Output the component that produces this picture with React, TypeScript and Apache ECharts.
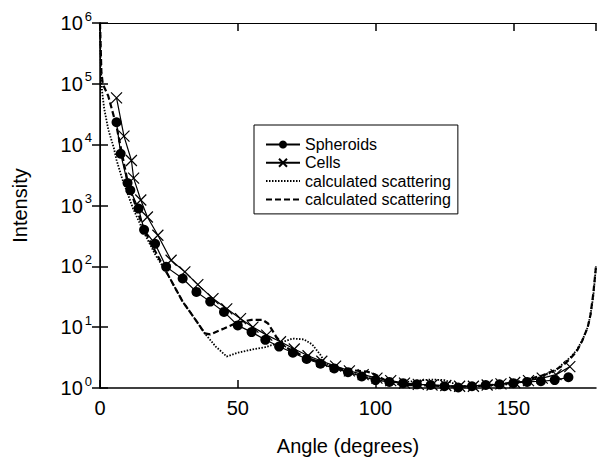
import React, { useEffect, useRef } from "react";
import * as echarts from "echarts";

const FONT = "'Liberation Sans', Arial, Helvetica, sans-serif";

// Spheroids (filled circles)
const spheroidAngle = [6, 7.5, 10, 11, 14, 16, 20, 24, 30, 35, 40, 45, 50, 55, 60, 65, 70, 75, 80, 85, 90, 95, 100, 105, 110, 115, 120, 125, 130, 135, 140, 145, 150, 155, 160, 165, 170];
const spheroidIntensity = [23400, 7080, 2340, 1780, 890, 398, 234, 98, 63, 38, 26.3, 17.8, 10.7, 8.3, 6.2, 4.8, 3.8, 3.0, 2.5, 2.1, 1.82, 1.55, 1.35, 1.26, 1.2, 1.15, 1.12, 1.07, 1.02, 1.07, 1.12, 1.15, 1.2, 1.26, 1.29, 1.35, 1.5];

// Cells (x markers)
const cellsAngle = [6, 8.7, 11.4, 12.2, 14.8, 17.2, 21, 25.8, 30.8, 35.5, 41, 46, 51, 55.5, 60.5, 65.5, 70.5, 75.5, 80.5, 85.5, 90.5, 95.5, 100.5, 105.5, 110.5, 115.5, 120.5, 125.5, 130.5, 135.5, 140.5, 145.5, 150.5, 155.5, 160.5, 165.5, 170.5];
const cellsIntensity = [58900, 13800, 5500, 2820, 1230, 646, 324, 126, 81, 50, 29.5, 20, 13.8, 10, 7.4, 5.75, 4.37, 3.39, 2.75, 2.29, 1.91, 1.66, 1.45, 1.32, 1.2, 1.15, 1.12, 1.1, 1.07, 1.07, 1.12, 1.17, 1.23, 1.32, 1.45, 1.66, 2.24];

// Calculated scattering (dotted)
const dottedAngle = [0, 0.3, 0.7, 1.5, 3, 5, 6, 8, 10, 12, 16, 20, 25, 30, 35, 38, 42, 46, 50, 55, 60, 65, 70, 74, 77, 80, 82, 85, 90, 95, 100, 105, 110, 115, 120, 125, 128, 132, 140, 145, 150, 155, 160, 165, 168, 171, 173, 175, 177, 178, 179, 180];
const dottedIntensity = [1e6, 2e5, 79400, 39800, 17800, 8900, 5600, 2800, 1580, 890, 355, 158, 68, 26.3, 12.6, 7.9, 4.8, 3.3, 3.8, 4.27, 4.7, 5.5, 6.5, 6.3, 5.2, 3.5, 2.5, 2.14, 1.82, 1.58, 1.38, 1.26, 1.23, 1.32, 1.38, 1.35, 1.2, 1.07, 1.07, 1.12, 1.17, 1.32, 1.51, 1.9, 2.5, 3.3, 4.2, 6.0, 10, 16, 32, 100];

// Calculated scattering (dashed)
const dashedAngle = [0, 0.5, 1, 3, 6, 10, 14, 16, 20, 25, 30, 35, 38, 40, 45, 50, 55, 59, 61, 64, 67, 70, 75, 80, 85, 88, 92, 97, 100, 103, 106, 110, 120, 130, 140, 145, 150, 155, 160, 165, 168, 171, 173, 175, 177, 178, 179, 180];
const dashedIntensity = [1e6, 1.58e5, 1e5, 63000, 20000, 2500, 710, 400, 178, 68, 26.3, 12.6, 7.9, 7.6, 9.5, 12, 13.2, 13.2, 11.5, 6.9, 4.8, 4.0, 3.16, 2.63, 2.19, 2.04, 1.95, 1.86, 1.66, 1.38, 1.2, 1.12, 1.1, 1.05, 1.1, 1.15, 1.23, 1.38, 1.58, 1.95, 2.34, 3.16, 4.0, 6.0, 10, 16, 35, 100];

const legendLabels: Record<string, string> = {
  Spheroids: "Spheroids",
  Cells: "Cells",
  calcDotted: "calculated scattering",
  calcDashed: "calculated scattering",
};

const zip = (a: number[], b: number[]) => a.map((x, i) => [x, b[i]]);

export default function App() {
  const ref = useRef<HTMLDivElement>(null);
  useEffect(() => {
    if (!ref.current) return;
    const chart = echarts.init(ref.current, undefined, { renderer: "svg" });
    const axisLine = { show: true, lineStyle: { color: "#000", width: 1.5 } };
    const tick = { show: true, inside: true, length: 8, lineStyle: { color: "#000", width: 1.5 } };
    chart.setOption({
      animation: false,
      backgroundColor: "#fff",
      grid: { left: 100, right: 1, top: 23, bottom: 74 },
      legend: {
        orient: "vertical",
        left: 254,
        top: 125,
        padding: [11, 7, 6, 11],
        itemWidth: 34,
        itemHeight: 10,
        itemGap: 1.3,
        backgroundColor: "#fff",
        borderColor: "#000",
        borderWidth: 1,
        borderRadius: 0,
        textStyle: { fontSize: 16, color: "#000", fontFamily: FONT, lineHeight: 17 },
        formatter: (n: string) => legendLabels[n] || n,
        data: ["Spheroids", "Cells", "calcDotted", "calcDashed"],
      },
      xAxis: [
        {
          type: "value",
          min: 0,
          max: 180,
          interval: 50,
          position: "bottom",
          axisLine,
          axisTick: tick,
          splitLine: { show: false },
          axisLabel: { color: "#000", fontSize: 20, fontFamily: FONT, margin: 10, showMaxLabel: false },
          name: "Angle (degrees)",
          nameLocation: "middle",
          nameGap: 48,
          nameTextStyle: { color: "#000", fontSize: 20, fontFamily: FONT },
        },
        {
          type: "value",
          min: 0,
          max: 180,
          interval: 50,
          position: "top",
          axisLine: { show: true, lineStyle: { color: "#000", width: 1 } },
          axisTick: tick,
          splitLine: { show: false },
          axisLabel: { show: false },
        },
      ],
      yAxis: [
        {
          type: "log",
          logBase: 10,
          min: 1,
          max: 1e6,
          position: "left",
          axisLine,
          axisTick: tick,
          minorTick: { show: false },
          splitLine: { show: false },
          axisLabel: {
            margin: 8,
            formatter: (v: number) => `{b|10}{s|${Math.round(Math.log10(v))}}`,
            rich: {
              b: { fontSize: 20, color: "#000", fontFamily: FONT },
              s: { fontSize: 13, color: "#000", fontFamily: FONT, padding: [0, 0, 14, 2] },
            },
          },
          name: "Intensity",
          nameLocation: "middle",
          nameGap: 70,
          nameRotate: 90,
          nameTextStyle: { color: "#000", fontSize: 20, fontFamily: FONT },
        },
        {
          type: "log",
          logBase: 10,
          min: 1,
          max: 1e6,
          position: "right",
          axisLine: { show: true, lineStyle: { color: "#000", width: 1 } },
          axisTick: tick,
          splitLine: { show: false },
          axisLabel: { show: false },
        },
      ],
      series: [
        {
          name: "Spheroids",
          type: "line",
          data: zip(spheroidAngle, spheroidIntensity),
          symbol: "circle",
          symbolSize: 10,
          itemStyle: { color: "#000" },
          lineStyle: { color: "#000", width: 1.2 },
        },
        {
          name: "Cells",
          type: "line",
          data: zip(cellsAngle, cellsIntensity),
          symbol: "path://M0,0L10,10M10,0L0,10",
          symbolSize: 11,
          itemStyle: { color: "#000", borderColor: "#000", borderWidth: 1.2 },
          lineStyle: { color: "#000", width: 1.2 },
        },
        {
          name: "calcDotted",
          type: "line",
          data: zip(dottedAngle, dottedIntensity),
          symbol: "circle",
          showSymbol: false,
          itemStyle: { color: "#000", opacity: 0 },
          lineStyle: { color: "#000", width: 1.8, type: [1.5, 1.5], opacity: 1 },
        },
        {
          name: "calcDashed",
          type: "line",
          data: zip(dashedAngle, dashedIntensity),
          symbol: "circle",
          showSymbol: false,
          itemStyle: { color: "#000", opacity: 0 },
          lineStyle: { color: "#000", width: 2.2, type: [6, 3], opacity: 1 },
        },
      ],
    });
    return () => chart.dispose();
  }, []);
  return (
    <div
      ref={ref}
      style={{ position: "absolute", left: 0, top: 0, width: 597, height: 462, background: "#fff" }}
    />
  );
}
